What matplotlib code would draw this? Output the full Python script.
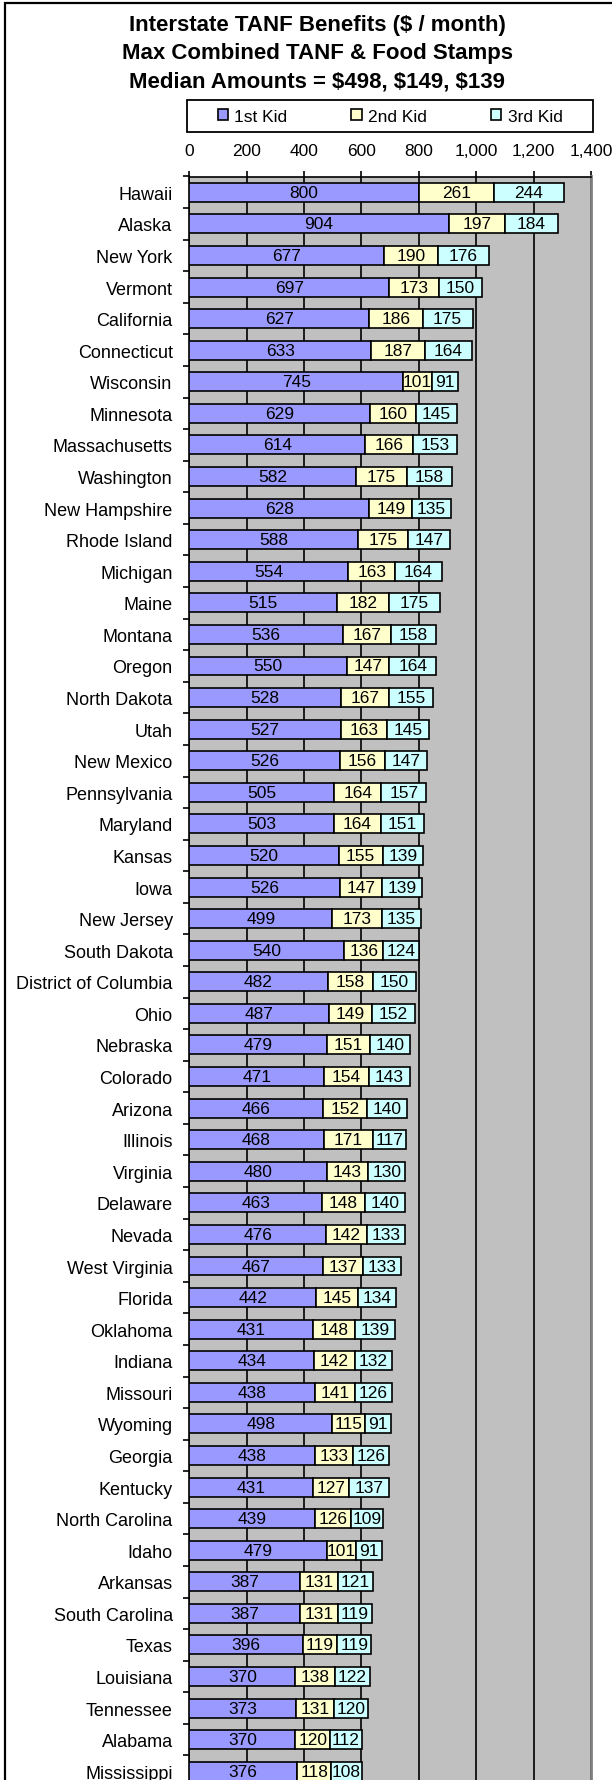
import numpy as np
import matplotlib
matplotlib.use("Agg")
import matplotlib.pyplot as plt
from matplotlib.patches import Patch, Rectangle

### Data ###
states = [
    "Hawaii", "Alaska", "New York", "Vermont", "California", "Connecticut",
    "Wisconsin", "Minnesota", "Massachusetts", "Washington", "New Hampshire",
    "Rhode Island", "Michigan", "Maine", "Montana", "Oregon", "North Dakota",
    "Utah", "New Mexico", "Pennsylvania", "Maryland", "Kansas", "Iowa",
    "New Jersey", "South Dakota", "District of Columbia", "Ohio", "Nebraska",
    "Colorado", "Arizona", "Illinois", "Virginia", "Delaware", "Nevada",
    "West Virginia", "Florida", "Oklahoma", "Indiana", "Missouri", "Wyoming",
    "Georgia", "Kentucky", "North Carolina", "Idaho", "Arkansas",
    "South Carolina", "Texas", "Louisiana", "Tennessee", "Alabama", "Mississippi",
]
kid1 = [800, 904, 677, 697, 627, 633, 745, 629, 614, 582, 628, 588, 554, 515,
        536, 550, 528, 527, 526, 505, 503, 520, 526, 499, 540, 482, 487, 479,
        471, 466, 468, 480, 463, 476, 467, 442, 431, 434, 438, 498, 438, 431,
        439, 479, 387, 387, 396, 370, 373, 370, 376]
kid2 = [261, 197, 190, 173, 186, 187, 101, 160, 166, 175, 149, 175, 163, 182,
        167, 147, 167, 163, 156, 164, 164, 155, 147, 173, 136, 158, 149, 151,
        154, 152, 171, 143, 148, 142, 137, 145, 148, 142, 141, 115, 133, 127,
        126, 101, 131, 131, 119, 138, 131, 120, 118]
kid3 = [244, 184, 176, 150, 175, 164, 91, 145, 153, 158, 135, 147, 164, 175,
        158, 164, 155, 145, 147, 157, 151, 139, 139, 135, 124, 150, 152, 140,
        143, 140, 117, 130, 140, 133, 133, 134, 139, 132, 126, 91, 126, 137,
        109, 91, 121, 119, 119, 122, 120, 112, 108]
series_names = ["1st Kid", "2nd Kid", "3rd Kid"]
x_ticks = [0, 200, 400, 600, 800, 1000, 1200, 1400]
title_lines = [
    "Interstate TANF Benefits ($ / month)",
    "Max Combined TANF & Food Stamps",
    "Median Amounts = $498, $149, $139",
]

### Plot config ###
plt.rcParams["font.family"] = ["Liberation Sans", "DejaVu Sans"]
colors = ["#9999FF", "#FFFFCC", "#CCFFFF"]
W, H = 612, 1781
fig = plt.figure(figsize=(W / 100, H / 100), dpi=100)

# plot area in pixels: left 189, right 591, top 177.5, rows of 31.58 px (runs past the bottom)
top_px, row_px = 177.5, 31.58
bottom_px = top_px + row_px * len(states)
ax = fig.add_axes([189.3 / W, 1 - bottom_px / H, (591 - 189.3) / W, (bottom_px - top_px) / H])
ax.set_facecolor("#C0C0C0")

y = np.arange(len(states))
left = np.zeros(len(states))
for vals, color, name in zip([kid1, kid2, kid3], colors, series_names):
    bars = ax.barh(y, vals, left=left, height=0.6, color=color,
                   edgecolor="black", linewidth=1.2, label=name, zorder=3)
    ax.bar_label(bars, labels=[str(v) for v in vals], label_type="center",
                 fontsize=12.5, zorder=4)
    left = left + np.array(vals)

ax.set_xlim(0, 1400)
ax.set_ylim(len(states) - 0.5, -0.5)
ax.set_xticks(x_ticks)
ax.set_xticklabels([f"{t:,}" for t in x_ticks])
ax.xaxis.tick_top()
ax.tick_params(axis="x", top=True, bottom=False, labeltop=True, labelbottom=False,
               direction="out", length=4, width=1.2, pad=9, labelsize=12.5)

ax.set_yticks(np.arange(-0.5, len(states), 1))
ax.set_yticklabels([])
ax.set_yticks(y, minor=True)
ax.set_yticklabels(states, minor=True)
ax.tick_params(axis="y", which="major", direction="out", length=4.5, width=1.2)
ax.tick_params(axis="y", which="minor", length=0, pad=12, labelsize=13)

ax.grid(axis="x", color="black", linewidth=1.2, zorder=1)
ax.set_axisbelow(True)
ax.spines["bottom"].set_visible(False)
ax.spines["right"].set_color("#808080")
ax.spines["right"].set_linewidth(2)
ax.spines["top"].set_linewidth(1.2)
ax.spines["left"].set_linewidth(1.2)

# title lines
for line, ypx in zip(title_lines, [25.5, 53.5, 82]):
    fig.text(317 / W, 1 - ypx / H, line, ha="center", va="center",
             fontsize=16, fontweight="bold")

# legend
handles = [Patch(facecolor=c, edgecolor="black", linewidth=1.2) for c in colors]
fig.legend(handles, series_names, loc="center", bbox_to_anchor=(390 / W, 1 - 117 / H),
           ncol=3, frameon=False, fontsize=12.5, columnspacing=3.7,
           handlelength=0.6, handleheight=0.6, handletextpad=0.35)
fig.patches.append(Rectangle((187 / W, 1 - 133.3 / H), 406 / W, 32.6 / H,
                             transform=fig.transFigure, fill=False,
                             edgecolor="black", linewidth=1.3))

# chart-area frame (cut off on the right and bottom)
fig.patches.append(Rectangle((5 / W, -0.01), 1.0, 1.01 - 4 / H,
                             transform=fig.transFigure, fill=False,
                             edgecolor="black", linewidth=1.6, clip_on=False))

fig.savefig("out.png", dpi=100)
